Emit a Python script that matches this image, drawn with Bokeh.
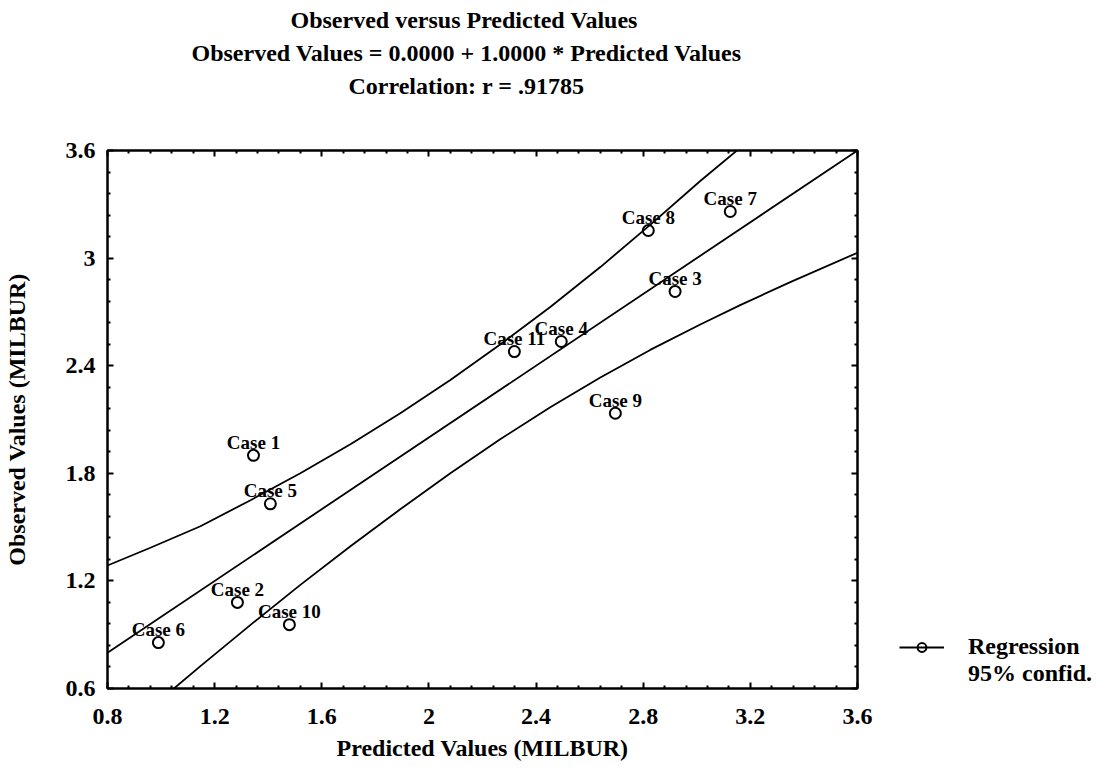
import numpy as np
from bokeh.plotting import figure
from bokeh.layouts import row
from bokeh.models import (Range1d, LinearAxis, FixedTicker, CustomJSTickFormatter,
                          Title, Legend, LegendItem, ColumnDataSource)
from bokeh.core.properties import value
from bokeh.embed import file_html
from bokeh.resources import INLINE

# ---------------- data ----------------
cases = ["Case 1", "Case 2", "Case 3", "Case 4", "Case 5", "Case 6",
         "Case 7", "Case 8", "Case 9", "Case 10", "Case 11"]
predicted = [1.345, 1.285, 2.919, 2.494, 1.408, 0.990, 3.125, 2.819, 2.696, 1.479, 2.319]
observed = [1.900, 1.080, 2.814, 2.535, 1.630, 0.856, 3.260, 3.154, 2.135, 0.956, 2.479]

intercept = 0.0
slope = 1.0

upper_x = [0.80, 0.96, 1.147, 1.334, 1.52, 1.707, 1.893, 2.08, 2.266, 2.453, 2.64, 2.826, 3.013, 3.162]
upper_y = [1.286, 1.385, 1.505, 1.650, 1.800, 1.962, 2.135, 2.320, 2.518, 2.727, 2.950, 3.185, 3.430, 3.615]
lower_x = [1.048, 1.147, 1.334, 1.52, 1.707, 1.893, 2.08, 2.266, 2.453, 2.64, 2.826, 3.013, 3.162, 3.349, 3.60]
lower_y = [0.600, 0.725, 0.955, 1.178, 1.393, 1.600, 1.800, 1.990, 2.168, 2.334, 2.488, 2.630, 2.738, 2.866, 3.030]

x_ticks = [0.8, 1.2, 1.6, 2.0, 2.4, 2.8, 3.2, 3.6]
y_ticks = [0.6, 1.2, 1.8, 2.4, 3.0, 3.6]

title_lines = ["Observed versus Predicted Values",
               "Observed Values = 0.0000 + 1.0000 * Predicted Values",
               "Correlation: r = .91785"]
x_label = "Predicted Values (MILBUR)"
y_label = "Observed Values (MILBUR)"
legend_labels = ["Regression", "95% confid."]

FONT = "Liberation Serif"

# ---------------- main figure ----------------
p = figure(frame_width=750, frame_height=538,
           x_range=Range1d(0.8, 3.6), y_range=Range1d(0.6, 3.6),
           output_backend="svg", toolbar_location=None,
           min_border_left=107, min_border_top=150, min_border_right=20,
           min_border_bottom=80)
p.background_fill_color = "white"
p.border_fill_color = "white"
p.grid.visible = False
p.outline_line_color = "black"
p.outline_line_width = 2

def minor(ticks, n):
    out = []
    for a, b in zip(ticks[:-1], ticks[1:]):
        out += list(np.linspace(a, b, n + 1)[1:-1])
    return out

fmt = CustomJSTickFormatter(code="return String(Math.round(tick*10)/10)")

def style_axis(ax, ticks, n, labels=True):
    ax.ticker = FixedTicker(ticks=ticks, minor_ticks=minor(ticks, n))
    ax.formatter = fmt
    ax.axis_line_color = "black"
    ax.axis_line_width = 2
    ax.major_tick_in = 6
    ax.major_tick_out = 0
    ax.minor_tick_in = 3
    ax.minor_tick_out = 0
    ax.major_tick_line_width = 2
    ax.minor_tick_line_width = 2
    ax.major_label_text_font = FONT
    ax.major_label_text_font_style = "bold"
    ax.major_label_text_color = "black"
    ax.axis_label_text_font = FONT
    ax.axis_label_text_font_style = "bold"
    ax.axis_label_text_color = "black"
    ax.axis_label_text_font_size = "24px"
    if labels:
        ax.major_label_text_font_size = "24px"
    else:
        ax.major_label_text_font_size = "0px"
        ax.major_label_standoff = 0

style_axis(p.xaxis[0], x_ticks, 5)
style_axis(p.yaxis[0], y_ticks, 5)
p.xaxis[0].axis_label = x_label
p.xaxis[0].major_label_standoff = 20
p.xaxis[0].axis_label_standoff = 8
p.yaxis[0].axis_label = y_label
p.yaxis[0].major_label_standoff = 12
p.yaxis[0].axis_label_standoff = 33

top_ax = LinearAxis()
right_ax = LinearAxis()
p.add_layout(top_ax, "above")
p.add_layout(right_ax, "right")
style_axis(top_ax, x_ticks, 5, labels=False)
style_axis(right_ax, y_ticks, 5, labels=False)

# spacer between the frame and the title block
p.add_layout(Title(text=" ", text_font_size="24px", standoff=20), "above")
# titles (first added is closest to plot); offsets place them slightly left of centre
for txt, off in [(title_lines[2], 241), (title_lines[1], 84), (title_lines[0], 183)]:
    t = Title(text=txt, align="left", offset=off, text_font=FONT, text_font_style="bold",
              text_font_size="24px", text_color="black", standoff=5)
    p.add_layout(t, "above")

# ---------------- glyphs ----------------
rx = [0.8, 3.6]
ry = [intercept + slope * v for v in rx]
p.line(rx, ry, line_color="black", line_width=1.8)
p.line(upper_x, upper_y, line_color="black", line_width=1.8)
p.line(lower_x, lower_y, line_color="black", line_width=1.8)

src = ColumnDataSource(dict(x=predicted, y=observed, name=cases))
p.scatter("x", "y", source=src, size=11, marker="circle",
          fill_color=None, line_color="black", line_width=2)
p.text("x", "y", text="name", source=src, text_align="center",
       text_baseline="alphabetic", y_offset=-13,
       text_font=value(FONT), text_font_style="bold",
       text_font_size="19px", text_color="black")

# ---------------- legend panel ----------------
q = figure(width=224, height=768, x_range=Range1d(10, 11), y_range=Range1d(10, 11),
           output_backend="svg", toolbar_location=None, min_border=0,
           x_axis_location=None, y_axis_location=None, title=None)
q.grid.visible = False
q.outline_line_color = None
q.background_fill_color = "white"
q.border_fill_color = "white"
# legend keys (the data lie outside this panel's ranges, so only the keys show)
lg_line = q.line(rx, ry, line_color="black", line_width=1.8)
lg_pt = q.scatter(predicted, observed, size=11, marker="circle", fill_color=None,
                  line_color="black", line_width=2)
lg_blank = q.line(rx, ry, line_alpha=0)

legend = Legend(items=[LegendItem(label=legend_labels[0], renderers=[lg_line, lg_pt]),
                       LegendItem(label=legend_labels[1], renderers=[lg_blank])],
                location=(22, 1), border_line_color=None,
                background_fill_alpha=0, margin=0, padding=0, spacing=0,
                label_text_font=FONT, label_text_font_style="bold",
                label_text_font_size="24px", label_text_color="black",
                glyph_width=45, glyph_height=22, label_height=22,
                label_standoff=24)
q.add_layout(legend, "center")

layout = row(p, q)
open("out.html", "w").write(file_html(layout, INLINE))
